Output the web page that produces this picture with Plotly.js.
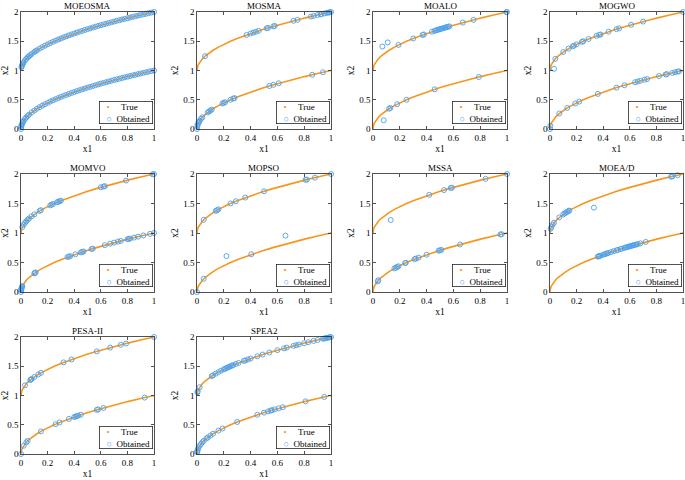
<!DOCTYPE html>
<html>
<head>
<meta charset="utf-8">
<script src="https://cdn.plot.ly/plotly-3.0.1.min.js"></script>
<style>html,body{margin:0;padding:0;background:#fff;}#chart{width:685px;height:480px;}</style>
</head>
<body>
<div id="chart"></div>
<script>
// ---- data ----
const panelNames = ['MOEOSMA','MOSMA','MOALO','MOGWO','MOMVO','MOPSO','MSSA','MOEA/D','PESA-II','SPEA2'];
const legendLabels = ['True','Obtained'];
const xTicks = [0,0.2,0.4,0.6,0.8,1];
const yTicks = [0,0.5,1,1.5,2];

// true Pareto front (two branches)
const trueX   = [0,0.001,0.0025,0.005,0.01,0.02,0.04,0.06,0.09,0.12,0.16,0.2,0.25,0.3,0.36,0.42,0.49,0.56,0.64,0.72,0.81,0.9,1];
const trueLow = [0,0.032,0.05,0.071,0.1,0.141,0.2,0.245,0.3,0.346,0.4,0.447,0.5,0.548,0.6,0.648,0.7,0.748,0.8,0.849,0.9,0.949,1];
const trueUp  = [1,1.032,1.05,1.071,1.1,1.141,1.2,1.245,1.3,1.346,1.4,1.447,1.5,1.548,1.6,1.648,1.7,1.748,1.8,1.849,1.9,1.949,2];

// obtained solutions per algorithm
const moeosmaX = [0.003,0.006,0.01,0.015,0.02,0.03,0.04,0.05,0.06,0.07,0.08,0.1,0.11,0.12,0.14,0.16,0.18,0.2,0.22,0.24,0.26,0.28,0.3,0.32,0.34,0.36,0.38,0.4,0.42,0.44,0.46,0.48,0.5,0.52,0.54,0.56,0.58,0.6,0.62,0.64,0.66,0.68,0.7,0.72,0.74,0.76,0.78,0.8,0.82,0.84,0.86,0.88,0.9,0.92,0.94,0.96,0.98,1,
  0,0.001,0.003,0.006,0.01,0.015,0.02,0.03,0.04,0.05,0.06,0.08,0.1,0.12,0.14,0.16,0.18,0.2,0.22,0.24,0.26,0.28,0.3,0.32,0.34,0.36,0.38,0.4,0.42,0.44,0.46,0.48,0.5,0.52,0.54,0.56,0.58,0.6,0.62,0.64,0.66,0.68,0.7,0.72,0.74,0.76,0.78,0.8,0.82,0.84,0.86,0.88,0.9,0.92,0.94,0.96,0.98,1];
const moeosmaY = [1.055,1.077,1.1,1.122,1.141,1.173,1.2,1.224,1.245,1.265,1.283,1.316,1.332,1.346,1.374,1.4,1.424,1.447,1.469,1.49,1.51,1.529,1.548,1.566,1.583,1.6,1.616,1.632,1.648,1.663,1.678,1.693,1.707,1.721,1.735,1.748,1.762,1.775,1.787,1.8,1.812,1.825,1.837,1.849,1.86,1.872,1.883,1.894,1.906,1.917,1.927,1.938,1.949,1.959,1.97,1.98,1.99,2,
  0,0.032,0.055,0.077,0.1,0.122,0.141,0.173,0.2,0.224,0.245,0.283,0.316,0.346,0.374,0.4,0.424,0.447,0.469,0.49,0.51,0.529,0.548,0.566,0.583,0.6,0.616,0.632,0.648,0.663,0.678,0.693,0.707,0.721,0.735,0.748,0.762,0.775,0.787,0.8,0.812,0.825,0.837,0.849,0.86,0.872,0.883,0.894,0.906,0.917,0.927,0.938,0.949,0.959,0.97,0.98,0.99,1];

const mosmaX = [0.06,0.37,0.4,0.42,0.44,0.46,0.52,0.53,0.57,0.58,0.72,0.75,0.85,0.87,0.9,0.92,0.93,0.95,0.97,0.98,0.99,1,
  0,0.002,0.005,0.01,0.015,0.02,0.03,0.04,0.08,0.09,0.1,0.11,0.19,0.2,0.21,0.25,0.27,0.28,0.54,0.57,0.61,0.86,0.94];
const mosmaY = [1.245,1.608,1.632,1.648,1.663,1.678,1.721,1.728,1.755,1.762,1.849,1.866,1.922,1.933,1.949,1.959,1.964,1.975,1.985,1.99,1.995,2,
  0,0.045,0.071,0.1,0.122,0.141,0.173,0.2,0.283,0.3,0.316,0.332,0.436,0.447,0.458,0.5,0.52,0.529,0.735,0.755,0.781,0.927,0.97];

const moaloX = [0.07,0.11,0.19,0.3,0.37,0.38,0.44,0.46,0.47,0.48,0.49,0.5,0.51,0.52,0.53,0.54,0.55,0.56,0.57,0.67,0.75,0.995,1,
  0.08,0.12,0.13,0.18,0.25,0.46,0.79];
const moaloY = [1.41,1.48,1.436,1.548,1.608,1.616,1.663,1.678,1.686,1.693,1.7,1.707,1.714,1.721,1.728,1.735,1.742,1.748,1.755,1.819,1.866,1.997,2,
  0.15,0.346,0.36,0.424,0.5,0.678,0.889];

const mogwoX = [0.03,0.04,0.1,0.14,0.17,0.18,0.2,0.24,0.25,0.29,0.35,0.37,0.38,0.44,0.5,0.52,0.61,0.7,1,
  0,0.003,0.07,0.13,0.19,0.22,0.36,0.5,0.56,0.64,0.66,0.68,0.71,0.73,0.82,0.87,0.88,0.92,0.94,0.96,0.97];
const mogwoY = [1.03,1.2,1.316,1.374,1.412,1.424,1.447,1.49,1.5,1.539,1.592,1.608,1.616,1.663,1.707,1.721,1.781,1.837,2,
  0,0.055,0.265,0.36,0.436,0.469,0.6,0.707,0.748,0.8,0.812,0.825,0.843,0.854,0.906,0.933,0.938,0.959,0.97,0.98,0.985];

const momvoX = [0.01,0.02,0.03,0.04,0.05,0.06,0.08,0.1,0.14,0.15,0.22,0.23,0.24,0.27,0.28,0.29,0.3,0.6,0.62,0.63,0.79,0.99,1,
  0,0.001,0.002,0.003,0.005,0.008,0.01,0.1,0.105,0.11,0.35,0.36,0.37,0.41,0.45,0.46,0.47,0.53,0.54,0.63,0.67,0.7,0.73,0.75,0.8,0.81,0.82,0.85,0.88,0.92,0.97,1];
const momvoY = [1.1,1.141,1.173,1.2,1.224,1.245,1.283,1.316,1.374,1.387,1.469,1.48,1.49,1.52,1.529,1.539,1.548,1.775,1.787,1.794,1.889,1.995,2,
  0,0.032,0.045,0.055,0.071,0.09,0.1,0.316,0.324,0.332,0.592,0.6,0.608,0.64,0.671,0.678,0.686,0.728,0.735,0.794,0.819,0.837,0.854,0.866,0.894,0.9,0.906,0.922,0.938,0.959,0.985,1];

const mopsoX = [0.05,0.14,0.15,0.16,0.25,0.29,0.36,0.5,0.81,0.82,0.88,1,
  0,0.05,0.22,0.405,0.66];
const mopsoY = [1.224,1.374,1.387,1.4,1.5,1.539,1.6,1.707,1.9,1.906,1.938,2,
  0,0.224,0.61,0.64,0.955];

const mssaX = [0.132,0.42,0.53,0.58,0.59,0.84,1,
  0.035,0.04,0.16,0.17,0.18,0.19,0.24,0.245,0.31,0.32,0.34,0.4,0.49,0.5,0.51,0.65,0.95,0.96];
const mssaY = [1.22,1.648,1.728,1.762,1.768,1.917,2,
  0.18,0.2,0.4,0.412,0.424,0.436,0.49,0.495,0.557,0.566,0.583,0.632,0.7,0.707,0.714,0.806,0.975,0.98];

const moeadX = [0.005,0.01,0.02,0.03,0.07,0.1,0.11,0.12,0.13,0.14,0.145,0.33,0.91,0.92,0.96,
  0.36,0.365,0.37,0.38,0.4,0.41,0.42,0.43,0.44,0.46,0.48,0.5,0.51,0.53,0.54,0.56,0.57,0.58,0.59,0.6,0.61,0.62,0.63,0.64,0.65,0.66,0.68,0.72];
const moeadY = [1.071,1.1,1.141,1.173,1.265,1.316,1.332,1.346,1.36,1.374,1.38,1.43,1.954,1.959,1.98,
  0.6,0.604,0.608,0.616,0.632,0.64,0.648,0.656,0.663,0.678,0.693,0.707,0.714,0.728,0.735,0.748,0.755,0.762,0.768,0.775,0.781,0.787,0.794,0.8,0.806,0.812,0.825,0.849];

const pesaX = [0.03,0.07,0.075,0.08,0.1,0.13,0.15,0.32,0.38,0.57,0.67,0.75,0.79,1,
  0,0.02,0.04,0.05,0.15,0.26,0.29,0.36,0.4,0.41,0.42,0.43,0.45,0.57,0.58,0.62,0.93];
const pesaY = [1.173,1.265,1.274,1.283,1.316,1.36,1.387,1.566,1.616,1.755,1.819,1.866,1.889,2,
  0,0.141,0.2,0.224,0.387,0.51,0.539,0.6,0.632,0.64,0.648,0.656,0.671,0.755,0.762,0.787,0.964];

const spea2X = [0.003,0.005,0.02,0.11,0.12,0.14,0.16,0.18,0.2,0.21,0.22,0.23,0.24,0.25,0.26,0.27,0.29,0.31,0.35,0.36,0.38,0.4,0.45,0.49,0.54,0.6,0.65,0.67,0.72,0.74,0.76,0.8,0.83,0.87,0.9,0.94,0.95,0.96,0.97,0.98,0.99,1,
  0.001,0.002,0.005,0.01,0.02,0.03,0.04,0.05,0.07,0.08,0.1,0.12,0.16,0.19,0.3,0.45,0.5,0.53,0.55,0.56,0.58,0.61,0.64,0.81,0.95];
const spea2Y = [1.055,1.071,1.141,1.332,1.346,1.374,1.4,1.424,1.447,1.458,1.469,1.48,1.49,1.5,1.51,1.52,1.539,1.557,1.592,1.6,1.616,1.632,1.671,1.7,1.735,1.775,1.806,1.819,1.849,1.86,1.872,1.894,1.911,1.933,1.949,1.97,1.975,1.98,1.985,1.99,1.995,2,
  0.032,0.045,0.071,0.1,0.141,0.173,0.2,0.224,0.265,0.283,0.316,0.346,0.4,0.436,0.548,0.671,0.707,0.728,0.742,0.748,0.762,0.781,0.8,0.9,0.975];

const obtainedX = [moeosmaX,mosmaX,moaloX,mogwoX,momvoX,mopsoX,mssaX,moeadX,pesaX,spea2X];
const obtainedY = [moeosmaY,mosmaY,moaloY,mogwoY,momvoY,mopsoY,mssaY,moeadY,pesaY,spea2Y];

// ---- layout ----
const W = 685, H = 480;
const colPx = [[21,154],[197,331],[373,507],[550,683]];
const rowPx = [[12,129],[174,292],[337,454]];
const FONT = 'Liberation Serif';
const ORANGE = '#F7961E';
const BLUE = '#45A0F5';
const AXC = '#262626';
const NB = '\u00A0';

const traces = [];
const layout = {
  width: W, height: H,
  margin: {l:0, r:0, t:0, b:0},
  paper_bgcolor: '#fff', plot_bgcolor: '#fff',
  font: {family: FONT, color: '#000', size: 9},
  showlegend: false,
  annotations: []
};

for (let i = 0; i < panelNames.length; i++) {
  const col = i % 4, row = Math.floor(i / 4);
  const s = i === 0 ? '' : String(i + 1);
  const xd = [colPx[col][0] / W, colPx[col][1] / W];
  const yd = [1 - rowPx[row][1] / H, 1 - rowPx[row][0] / H];

  const common = {
    showline: true, mirror: 'ticks', ticks: 'inside', ticklen: 3,
    linecolor: AXC, linewidth: 0.8, tickcolor: AXC, tickwidth: 0.8,
    showgrid: false, zeroline: false, ticklabeloverflow: 'allow',
    tickfont: {family: FONT, size: 9, color: '#000'}
  };
  layout['xaxis' + s] = Object.assign({}, common, {
    domain: xd, anchor: 'y' + s, range: [0, 1], tickvals: xTicks,
    title: {text: 'x1', font: {family: FONT, size: 9.5}, standoff: 3}
  });
  layout['yaxis' + s] = Object.assign({}, common, {
    domain: yd, anchor: 'x' + s, range: [0, 2], tickvals: yTicks,
    title: {text: 'x2', font: {family: FONT, size: 9.5}, standoff: 2}
  });
  // panel title
  layout.annotations.push({
    text: panelNames[i],
    xref: 'x' + s + ' domain', yref: 'y' + s + ' domain',
    x: 0.5, y: 1, xanchor: 'center', yanchor: 'bottom', yshift: -1,
    showarrow: false, font: {family: FONT, size: 9, color: '#000'}
  });
  // legend box (text legend)
  layout.annotations.push({
    text: NB + NB + NB + '<span style="color:' + ORANGE + '">•</span>' + NB.repeat(5) + legendLabels[0] + NB +
          '<br>' + NB + NB + NB + '<span style="color:' + BLUE + '">○</span>' + NB + NB + legendLabels[1] + NB,
    xref: 'x' + s + ' domain', yref: 'y' + s + ' domain',
    x: 1, y: 0, xanchor: 'right', yanchor: 'bottom', xshift: -1, yshift: 5,
    align: 'left', showarrow: false,
    bgcolor: '#fff', bordercolor: AXC, borderwidth: 0.8, borderpad: 0,
    font: {family: FONT, size: 9, color: '#000'}
  });

  // true front drawn as a line
  traces.push({
    type: 'scatter', mode: 'lines', xaxis: 'x' + s, yaxis: 'y' + s,
    x: trueX.concat([null], trueX), y: trueLow.concat([null], trueUp),
    line: {color: ORANGE, width: 1.6}, hoverinfo: 'skip', name: legendLabels[0]
  });
  // obtained
  traces.push({
    type: 'scatter', mode: 'markers', xaxis: 'x' + s, yaxis: 'y' + s,
    x: obtainedX[i], y: obtainedY[i], cliponaxis: false, name: legendLabels[1],
    marker: {color: BLUE, size: 5, symbol: 'circle-open', line: {color: BLUE, width: 0.9}}
  });
}

Plotly.newPlot('chart', traces, layout, {staticPlot: true, displayModeBar: false});
</script>
</body>
</html>
